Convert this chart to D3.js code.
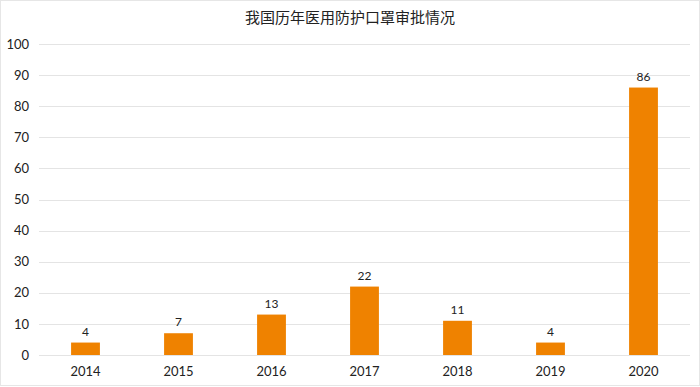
<!DOCTYPE html>
<meta charset="utf-8">
<script src="https://d3js.org/d3.v7.min.js"></script>
<style>
    body { margin: 0; background: #fff; }
    text { font-family: Lato, "Open Sans", "Noto Sans CJK SC", sans-serif; fill: #222; }
</style>
<div id="vis"></div>
<script>
    // data
    var years = ["2014", "2015", "2016", "2017", "2018", "2019", "2020"];
    var counts = [4, 7, 13, 22, 11, 4, 86];
    var yTicks = [0, 10, 20, 30, 40, 50, 60, 70, 80, 90, 100];
    var title = "我国历年医用防护口罩审批情况";

    var W = 700, H = 387;
    var mgn = { top: 44, rgt: 10, btm: 32, lft: 39 },
        wid = W - mgn.lft - mgn.rgt,
        hgt = H - mgn.top - mgn.btm;

    var root = d3.select("#vis").append("svg")
        .attr("width", W)
        .attr("height", H);

    // faint outer border
    root.append("rect")
        .attr("x", 0.5).attr("y", 0.5)
        .attr("width", W - 1).attr("height", H - 2)
        .attr("fill", "none")
        .attr("stroke", "#e6e6e6");

    root.append("text")
        .attr("x", W / 2)
        .attr("y", 23)
        .attr("text-anchor", "middle")
        .style("font-family", "'Noto Sans CJK SC', sans-serif")
        .style("font-size", "15px")
        .text(title);

    var svg = root.append("g")
        .attr("transform", "translate(" + mgn.lft + "," + mgn.top + ")");

    var x = d3.scaleBand()
        .domain(years)
        .range([0, wid])
        .paddingInner(0.69)
        .paddingOuter(0.345);

    var y = d3.scaleLinear()
        .domain([0, 100])
        .range([hgt, 0]);

    // gridlines
    svg.append("g")
        .selectAll("line")
        .data(yTicks)
        .enter()
        .append("line")
        .attr("x1", 0)
        .attr("x2", wid)
        .attr("y1", function (d) { return Math.round(y(d)) + 0.5; })
        .attr("y2", function (d) { return Math.round(y(d)) + 0.5; })
        .attr("stroke", "#e4e4e4")
        .attr("stroke-width", 1);

    // y labels
    var yAxis = svg.append("g")
        .call(d3.axisLeft(y).tickValues(yTicks).tickSize(0).tickPadding(10));
    yAxis.select(".domain").remove();
    yAxis.selectAll("text")
        .style("font-size", "13px")
        .style("fill", "#222");

    // x labels
    var xAxis = svg.append("g")
        .attr("transform", "translate(0," + hgt + ")")
        .call(d3.axisBottom(x).tickSize(0).tickPadding(12));
    xAxis.select(".domain").remove();
    xAxis.selectAll("text")
        .style("font-size", "13px")
        .style("fill", "#222");

    // bars
    svg.append("g")
        .selectAll("rect")
        .data(counts)
        .enter()
        .append("rect")
        .attr("x", function (d, i) { return x(years[i]); })
        .attr("y", function (d) { return y(d); })
        .attr("width", x.bandwidth())
        .attr("height", function (d) { return hgt - y(d); })
        .attr("fill", "#ef8200");

    // value labels
    svg.append("g")
        .selectAll("text")
        .data(counts)
        .enter()
        .append("text")
        .attr("x", function (d, i) { return x(years[i]) + x.bandwidth() / 2; })
        .attr("y", function (d) { return y(d) - 7; })
        .attr("text-anchor", "middle")
        .style("font-size", "12px")
        .text(function (d) { return d; });
</script>
